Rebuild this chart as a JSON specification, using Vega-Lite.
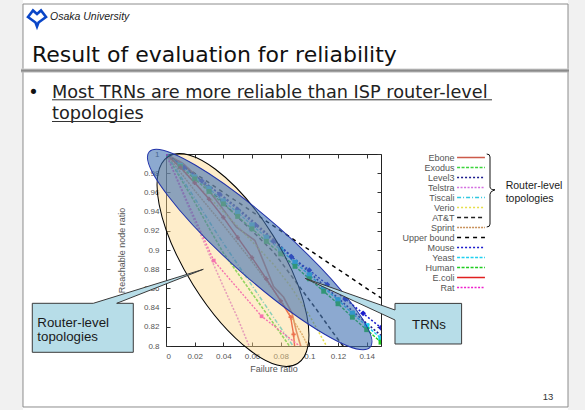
{
"$schema": "https://vega.github.io/schema/vega-lite/v6.json",
"width": 215, "height": 192,
"autosize": {"type": "none"},
"padding": {"left": 166, "top": 154, "right": 204, "bottom": 64},
"background": "white",
"datasets": {
"lines": [
{"s":"Upper bound","x":0,"y":1},{"s":"Upper bound","x":0.15,"y":0.85},
{"s":"Ebone","x":0,"y":1},{"s":"Ebone","x":0.012,"y":0.99},{"s":"Ebone","x":0.024,"y":0.973},{"s":"Ebone","x":0.036,"y":0.95},{"s":"Ebone","x":0.049,"y":0.924},{"s":"Ebone","x":0.062,"y":0.91},{"s":"Ebone","x":0.068,"y":0.888},{"s":"Ebone","x":0.075,"y":0.862},{"s":"Ebone","x":0.082,"y":0.851},{"s":"Ebone","x":0.088,"y":0.834},{"s":"Ebone","x":0.091,"y":0.815},{"s":"Ebone","x":0.094,"y":0.8},{"s":"Ebone","x":0.096,"y":0.79},
{"s":"Exodus","x":0,"y":1},{"s":"Exodus","x":0.01,"y":0.975},{"s":"Exodus","x":0.02,"y":0.95},{"s":"Exodus","x":0.03,"y":0.923},{"s":"Exodus","x":0.04,"y":0.897},{"s":"Exodus","x":0.05,"y":0.876},{"s":"Exodus","x":0.06,"y":0.855},{"s":"Exodus","x":0.07,"y":0.834},{"s":"Exodus","x":0.08,"y":0.813},{"s":"Exodus","x":0.088,"y":0.796},
{"s":"Level3","x":0,"y":1},{"s":"Level3","x":0.015,"y":0.984},{"s":"Level3","x":0.03,"y":0.967},{"s":"Level3","x":0.045,"y":0.95},{"s":"Level3","x":0.06,"y":0.931},{"s":"Level3","x":0.075,"y":0.911},{"s":"Level3","x":0.09,"y":0.89},{"s":"Level3","x":0.105,"y":0.87},{"s":"Level3","x":0.12,"y":0.85},{"s":"Level3","x":0.135,"y":0.83},{"s":"Level3","x":0.15,"y":0.811},
{"s":"Telstra","x":0,"y":1},{"s":"Telstra","x":0.01,"y":0.965},{"s":"Telstra","x":0.02,"y":0.93},{"s":"Telstra","x":0.026,"y":0.91},{"s":"Telstra","x":0.032,"y":0.889},{"s":"Telstra","x":0.04,"y":0.862},{"s":"Telstra","x":0.05,"y":0.829},{"s":"Telstra","x":0.058,"y":0.8},{"s":"Telstra","x":0.06,"y":0.793},
{"s":"Tiscali","x":0,"y":1},{"s":"Tiscali","x":0.01,"y":0.977},{"s":"Tiscali","x":0.02,"y":0.954},{"s":"Tiscali","x":0.03,"y":0.93},{"s":"Tiscali","x":0.04,"y":0.907},{"s":"Tiscali","x":0.05,"y":0.885},{"s":"Tiscali","x":0.06,"y":0.863},{"s":"Tiscali","x":0.07,"y":0.841},{"s":"Tiscali","x":0.08,"y":0.819},{"s":"Tiscali","x":0.09,"y":0.797},
{"s":"Verio","x":0,"y":1},{"s":"Verio","x":0.02,"y":0.97},{"s":"Verio","x":0.04,"y":0.94},{"s":"Verio","x":0.06,"y":0.909},{"s":"Verio","x":0.075,"y":0.885},{"s":"Verio","x":0.087,"y":0.862},{"s":"Verio","x":0.1,"y":0.832},{"s":"Verio","x":0.112,"y":0.8},{"s":"Verio","x":0.115,"y":0.793},
{"s":"AT&T","x":0,"y":1},{"s":"AT&T","x":0.024,"y":0.973},{"s":"AT&T","x":0.042,"y":0.946},{"s":"AT&T","x":0.06,"y":0.92},{"s":"AT&T","x":0.075,"y":0.898},{"s":"AT&T","x":0.09,"y":0.868},{"s":"AT&T","x":0.105,"y":0.838},{"s":"AT&T","x":0.116,"y":0.815},{"s":"AT&T","x":0.125,"y":0.797},
{"s":"Sprint","x":0,"y":1},{"s":"Sprint","x":0.02,"y":0.962},{"s":"Sprint","x":0.04,"y":0.926},{"s":"Sprint","x":0.06,"y":0.888},{"s":"Sprint","x":0.08,"y":0.848},{"s":"Sprint","x":0.095,"y":0.812},{"s":"Sprint","x":0.1,"y":0.797},
{"s":"Mouse","x":0,"y":1},{"s":"Mouse","x":0.0125,"y":0.986},{"s":"Mouse","x":0.025,"y":0.972},{"s":"Mouse","x":0.0375,"y":0.958},{"s":"Mouse","x":0.05,"y":0.942},{"s":"Mouse","x":0.0625,"y":0.926},{"s":"Mouse","x":0.075,"y":0.909},{"s":"Mouse","x":0.0875,"y":0.893},{"s":"Mouse","x":0.1,"y":0.879},{"s":"Mouse","x":0.1125,"y":0.864},{"s":"Mouse","x":0.125,"y":0.849},{"s":"Mouse","x":0.1375,"y":0.834},{"s":"Mouse","x":0.15,"y":0.819},
{"s":"Yeast","x":0,"y":1},{"s":"Yeast","x":0.01,"y":0.988},{"s":"Yeast","x":0.02,"y":0.976},{"s":"Yeast","x":0.03,"y":0.964},{"s":"Yeast","x":0.04,"y":0.951},{"s":"Yeast","x":0.05,"y":0.939},{"s":"Yeast","x":0.06,"y":0.926},{"s":"Yeast","x":0.07,"y":0.913},{"s":"Yeast","x":0.08,"y":0.9},{"s":"Yeast","x":0.09,"y":0.887},{"s":"Yeast","x":0.1,"y":0.874},{"s":"Yeast","x":0.11,"y":0.861},{"s":"Yeast","x":0.12,"y":0.848},{"s":"Yeast","x":0.13,"y":0.834},{"s":"Yeast","x":0.14,"y":0.821},{"s":"Yeast","x":0.15,"y":0.808},
{"s":"Human","x":0,"y":1},{"s":"Human","x":0.01,"y":0.987},{"s":"Human","x":0.02,"y":0.974},{"s":"Human","x":0.03,"y":0.961},{"s":"Human","x":0.04,"y":0.948},{"s":"Human","x":0.05,"y":0.935},{"s":"Human","x":0.06,"y":0.922},{"s":"Human","x":0.07,"y":0.909},{"s":"Human","x":0.08,"y":0.896},{"s":"Human","x":0.09,"y":0.883},{"s":"Human","x":0.1,"y":0.87},{"s":"Human","x":0.11,"y":0.857},{"s":"Human","x":0.12,"y":0.844},{"s":"Human","x":0.13,"y":0.83},{"s":"Human","x":0.14,"y":0.817},{"s":"Human","x":0.15,"y":0.804},
{"s":"E.coli","x":0,"y":1},{"s":"E.coli","x":0.01,"y":0.986},{"s":"E.coli","x":0.02,"y":0.97},{"s":"E.coli","x":0.03,"y":0.953},{"s":"E.coli","x":0.04,"y":0.934},{"s":"E.coli","x":0.05,"y":0.913},{"s":"E.coli","x":0.06,"y":0.892},{"s":"E.coli","x":0.07,"y":0.87},{"s":"E.coli","x":0.08,"y":0.847},{"s":"E.coli","x":0.087,"y":0.83},{"s":"E.coli","x":0.089,"y":0.812},{"s":"E.coli","x":0.09,"y":0.795},
{"s":"Rat","x":0,"y":1},{"s":"Rat","x":0.0333,"y":0.889},{"s":"Rat","x":0.0667,"y":0.831},{"s":"Rat","x":0.1,"y":0.792}
]
},
"resolve": {"axis": {"x": "independent", "y": "independent"}},
"encoding": {
"x": {"field": "x", "type": "quantitative", "scale": {"domain": [0, 0.15], "nice": false}, "axis": null},
"y": {"field": "y", "type": "quantitative", "scale": {"domain": [0.8, 1], "nice": false}, "axis": null}
},
"layer": [
{"data": {"values": [{"x": -0.2, "x2": -0.09977, "y": 0.5, "y2": 1.3}, {"x": 0.28047, "x2": 0.4, "y": 0.5, "y2": 1.3}]},
 "mark": {"type": "rect", "fill": "#f1f1f1"},
 "encoding": {"x2": {"field": "x2"}, "y2": {"field": "y2"}}},
{"data": {"values": [{"x": -0.09977, "x2": 0.28047, "y": 1.15625, "y2": 0.73646}]},
 "mark": {"type": "rect", "fillOpacity": 0, "stroke": "#8c8c8c", "strokeWidth": 1},
 "encoding": {"x2": {"field": "x2"}, "y2": {"field": "y2"}}},
{"data": {"values": [{"x": -0.10116, "x2": 0.28116, "y": 1.08906, "y2": 1.0849}]},
 "mark": {"type": "rect", "fill": {"gradient": "linear", "x1": 0, "y1": 0, "x2": 0, "y2": 1, "stops": [{"offset": 0, "color": "#cfcfcf"}, {"offset": 0.5, "color": "#8a8a8a"}, {"offset": 1, "color": "#b5b5b5"}]}},
 "encoding": {"x2": {"field": "x2"}, "y2": {"field": "y2"}}},
{"data": {"values": [{"x": -0.09, "y": 1.14219}]},
 "mark": {"type": "point", "shape": "M-0.9,-0.05L-0.4,-0.7L0,-0.35L0.4,-0.7L0.9,-0.05L0.15,0.5L0,0.9L-0.15,0.5Z", "size": 400, "filled": false, "stroke": "#0a46c8", "strokeWidth": 2.6, "opacity": 1},
 "encoding": {}},
{"data": {"values": [{"x": -0.08093, "y": 1.1401, "t": "Osaka University"}]},
 "mark": {"type": "text", "font": "Liberation Sans", "fontSize": 10.5, "fontStyle": "italic", "align": "left", "baseline": "alphabetic", "color": "#222222"},
 "encoding": {"text": {"field": "t"}}},
{"data": {"values": [{"x": -0.09349, "y": 1.09583, "t": "Result of evaluation for reliability"}]},
 "mark": {"type": "text", "font": "DejaVu Sans", "fontSize": 22, "align": "left", "baseline": "alphabetic", "color": "#111111"},
 "encoding": {"text": {"field": "t"}}},
{"data": {"values": [{"x": -0.09244, "y": 1.05865, "t": "•"}]},
 "mark": {"type": "text", "font": "DejaVu Sans", "fontSize": 17.7, "align": "center", "baseline": "alphabetic", "color": "#111111"},
 "encoding": {"text": {"field": "t"}}},
{"data": {"values": [{"x": -0.07953, "y": 1.05865, "t": "Most TRNs are more reliable than ISP router-level"}, {"x": -0.07953, "y": 1.03646, "t": "topologies"}]},
 "mark": {"type": "text", "font": "DejaVu Sans", "fontSize": 17.7, "align": "left", "baseline": "alphabetic", "color": "#222222"},
 "encoding": {"text": {"field": "t"}}},
{"data": {"values": [{"x": -0.07953, "x2": 0.22744, "y": 1.05646}, {"x": -0.07953, "x2": -0.01744, "y": 1.03385}]},
 "mark": {"type": "rule", "color": "#333333", "strokeWidth": 1},
 "encoding": {"x2": {"field": "x2"}}},
{"data": {"values": [{"x": 0.26651, "y": 0.74375, "t": "13"}]},
 "mark": {"type": "text", "font": "Liberation Sans", "fontSize": 9.5, "align": "center", "baseline": "alphabetic", "color": "#333333"},
 "encoding": {"text": {"field": "t"}}},
{"data": {"name": "lines"},
 "mark": {"type": "line", "clip": true},
 "encoding": {
  "x": {"field": "x", "type": "quantitative", "scale": {"domain": [0, 0.15], "nice": false},
   "axis": {"orient": "bottom", "values": [0, 0.02, 0.04, 0.06, 0.08, 0.1, 0.12, 0.14], "format": "~g", "title": "Failure ratio", "titlePadding": 4, "labelPadding": 10}},
  "y": {"field": "y", "type": "quantitative", "scale": {"domain": [0.8, 1], "nice": false},
   "axis": {"orient": "left", "values": [0.8, 0.82, 0.84, 0.86, 0.88, 0.9, 0.92, 0.94, 0.96, 0.98, 1], "format": "~g", "title": "Reachable node ratio", "titlePadding": 17, "labelPadding": 11}},
  "color": {"field": "s", "type": "nominal",
   "scale": {"domain": ["Ebone", "Exodus", "Level3", "Telstra", "Tiscali", "Verio", "AT&T", "Sprint", "Upper bound", "Mouse", "Yeast", "Human", "E.coli", "Rat"],
    "range": ["#cc5a4a", "#3cd43c", "#1a1a8c", "#d46ee0", "#30c8e0", "#e6de48", "#222222", "#c8915a", "#000000", "#1a1acc", "#20d0f0", "#20cc20", "#e02020", "#ee20cc"]},
   "legend": {"orient": "none", "legendX": 300.5, "legendY": -1, "title": null, "padding": 0,
    "labelFont": "Liberation Sans", "labelFontSize": 9, "labelColor": "#555555", "labelAlign": "right", "labelOffset": -21,
    "rowPadding": -1, "symbolSize": 42, "symbolStrokeWidth": 1.5, "symbolType": "M-4.3,0H4.3"}},
  "strokeDash": {"field": "s", "type": "nominal",
   "scale": {"domain": ["Ebone", "Exodus", "Level3", "Telstra", "Tiscali", "Verio", "AT&T", "Sprint", "Upper bound", "Mouse", "Yeast", "Human", "E.coli", "Rat"],
    "range": [[1, 0], [3, 1.5], [2, 2], [2, 1.5], [4, 2, 1, 2], [2, 2], [4, 3], [2, 1], [4, 4], [2, 2], [3, 1.5], [3, 1.5], [1, 0], [2, 1.5]]}},
  "strokeWidth": {"field": "s", "type": "nominal",
   "scale": {"domain": ["Ebone", "Exodus", "Level3", "Telstra", "Tiscali", "Verio", "AT&T", "Sprint", "Upper bound", "Mouse", "Yeast", "Human", "E.coli", "Rat"],
    "range": [1.6, 1.4, 1.4, 1.3, 1.4, 1.3, 1.4, 1.4, 1.2, 1.8, 1.8, 1.8, 2.2, 2]}, "legend": null}
 }},
{"data": {"name": "lines"},
 "transform": [{"filter": {"field": "s", "oneOf": ["Mouse", "Yeast", "Human", "E.coli", "Rat"]}},
  {"aggregate": [{"op": "max", "field": "s", "as": "m"}], "groupby": ["s", "x", "y"]}],
 "mark": {"type": "point", "filled": true, "clip": true, "opacity": 1},
 "encoding": {
  "x": {"field": "x", "type": "quantitative", "scale": {"domain": [0, 0.15], "nice": false},
   "axis": {"orient": "top", "values": [0, 0.02, 0.04, 0.06, 0.08, 0.1, 0.12, 0.14], "labels": false, "title": null}},
  "y": {"field": "y", "type": "quantitative", "scale": {"domain": [0.8, 1], "nice": false},
   "axis": {"orient": "right", "values": [0.8, 0.82, 0.84, 0.86, 0.88, 0.9, 0.92, 0.94, 0.96, 0.98, 1], "labels": false, "title": null}},
  "fill": {"field": "m", "type": "nominal", "scale": {"domain": ["Mouse", "Yeast", "Human", "E.coli", "Rat"], "range": ["#1a1acc", "#20d0f0", "#20cc20", "#e02020", "#ee20cc"]}, "legend": null},
  "shape": {"field": "m", "type": "nominal", "scale": {"domain": ["Mouse", "Yeast", "Human", "E.coli", "Rat"], "range": ["diamond", "square", "square", "cross", "square"]}, "legend": null},
  "size": {"field": "m", "type": "ordinal", "scale": {"domain": ["Mouse", "Yeast", "Human", "E.coli", "Rat"], "range": [34, 14, 14, 24, 50]}, "legend": null}
 }},
{"data": {"values": [{"x": 0.04674, "y": 0.88958}]},
 "mark": {"type": "point", "shape": "M-1,0C-1,-0.2127,-0.5523,-0.385,0,-0.385C0.5523,-0.385,1,-0.2127,1,0C1,0.2127,0.5523,0.385,0,0.385C-0.5523,0.385,-1,0.2127,-1,0Z", "size": 59536, "angle": 58, "filled": true, "fill": "#fcd88a", "fillOpacity": 0.45, "stroke": "#000000", "strokeWidth": 1, "opacity": 1},
 "encoding": {}},
{"data": {"values": [{"x": 0.06537, "y": 0.90052}]},
 "mark": {"type": "point", "shape": "M-1,0C-1,-0.1088,-0.5523,-0.197,0,-0.197C0.5523,-0.197,1,-0.1088,1,0C1,0.1088,0.5523,0.197,0,0.197C-0.5523,0.197,-1,0.1088,-1,0Z", "size": 87025, "angle": 41.5, "filled": true, "fill": "#3f6fb0", "fillOpacity": 0.6, "stroke": "#2233aa", "strokeWidth": 1, "opacity": 1},
 "encoding": {}},
{"data": {"values": [{"x": -0.05805, "y": 0.81896}]},
 "mark": {"type": "point", "shape": "M-50.5,-24.5L10.5,-24.5L120.5,-58.5L33.9,-24.5L50.5,-24.5L50.5,24.5L-50.5,24.5Z", "size": 4, "filled": true, "fill": "#b7dde8", "stroke": "#3a3a3a", "strokeWidth": 1, "opacity": 1},
 "encoding": {}},
{"data": {"values": [{"x": 0.183, "y": 0.82323}]},
 "mark": {"type": "point", "shape": "M-33.3,-20.3L33.3,-20.3L33.3,20.3L-33.3,20.3L-33.3,-3.7L-123.3,-45.4L-33.3,-13.7Z", "size": 4, "filled": true, "fill": "#b7dde8", "stroke": "#3a3a3a", "strokeWidth": 1, "opacity": 1},
 "encoding": {}},
{"data": {"values": [{"x": -0.08979, "y": 0.82031, "t": "Router-level"}, {"x": -0.08979, "y": 0.80469, "t": "topologies"}]},
 "mark": {"type": "text", "font": "Liberation Sans", "fontSize": 13.3, "align": "left", "baseline": "alphabetic", "color": "#1a1a1a"},
 "encoding": {"text": {"field": "t"}}},
{"data": {"values": [{"x": 0.18349, "y": 0.8174, "t": "TRNs"}]},
 "mark": {"type": "text", "font": "Liberation Sans", "fontSize": 13.3, "align": "center", "baseline": "alphabetic", "color": "#1a1a1a"},
 "encoding": {"text": {"field": "t"}}},
{"data": {"values": [{"x": 0.22605, "y": 0.96198}]},
 "mark": {"type": "point", "shape": "M-0.09,-1Q0,-1,0,-0.92L0,-0.1Q0,-0.02,0.137,-0.02Q0,0.02,0,0.1L0,0.92Q0,1,-0.09,1", "size": 5329, "filled": false, "stroke": "#111111", "strokeWidth": 1, "opacity": 1},
 "encoding": {}},
{"data": {"values": [{"x": 0.237, "y": 0.96354, "t": "Router-level"}, {"x": 0.237, "y": 0.95052, "t": "topologies"}]},
 "mark": {"type": "text", "font": "Liberation Sans", "fontSize": 10.5, "align": "left", "baseline": "alphabetic", "color": "#1a1a1a"},
 "encoding": {"text": {"field": "t"}}}
],
"config": {
 "view": {"stroke": "#222222", "strokeWidth": 1},
 "axis": {"labelFont": "Liberation Sans", "labelFontSize": 8, "labelColor": "#555555", "titleFont": "Liberation Sans", "titleFontSize": 9, "titleFontWeight": "normal", "titleColor": "#555555", "domain": false, "grid": false, "tickColor": "#333333", "tickSize": -4, "tickWidth": 1}
}
}
